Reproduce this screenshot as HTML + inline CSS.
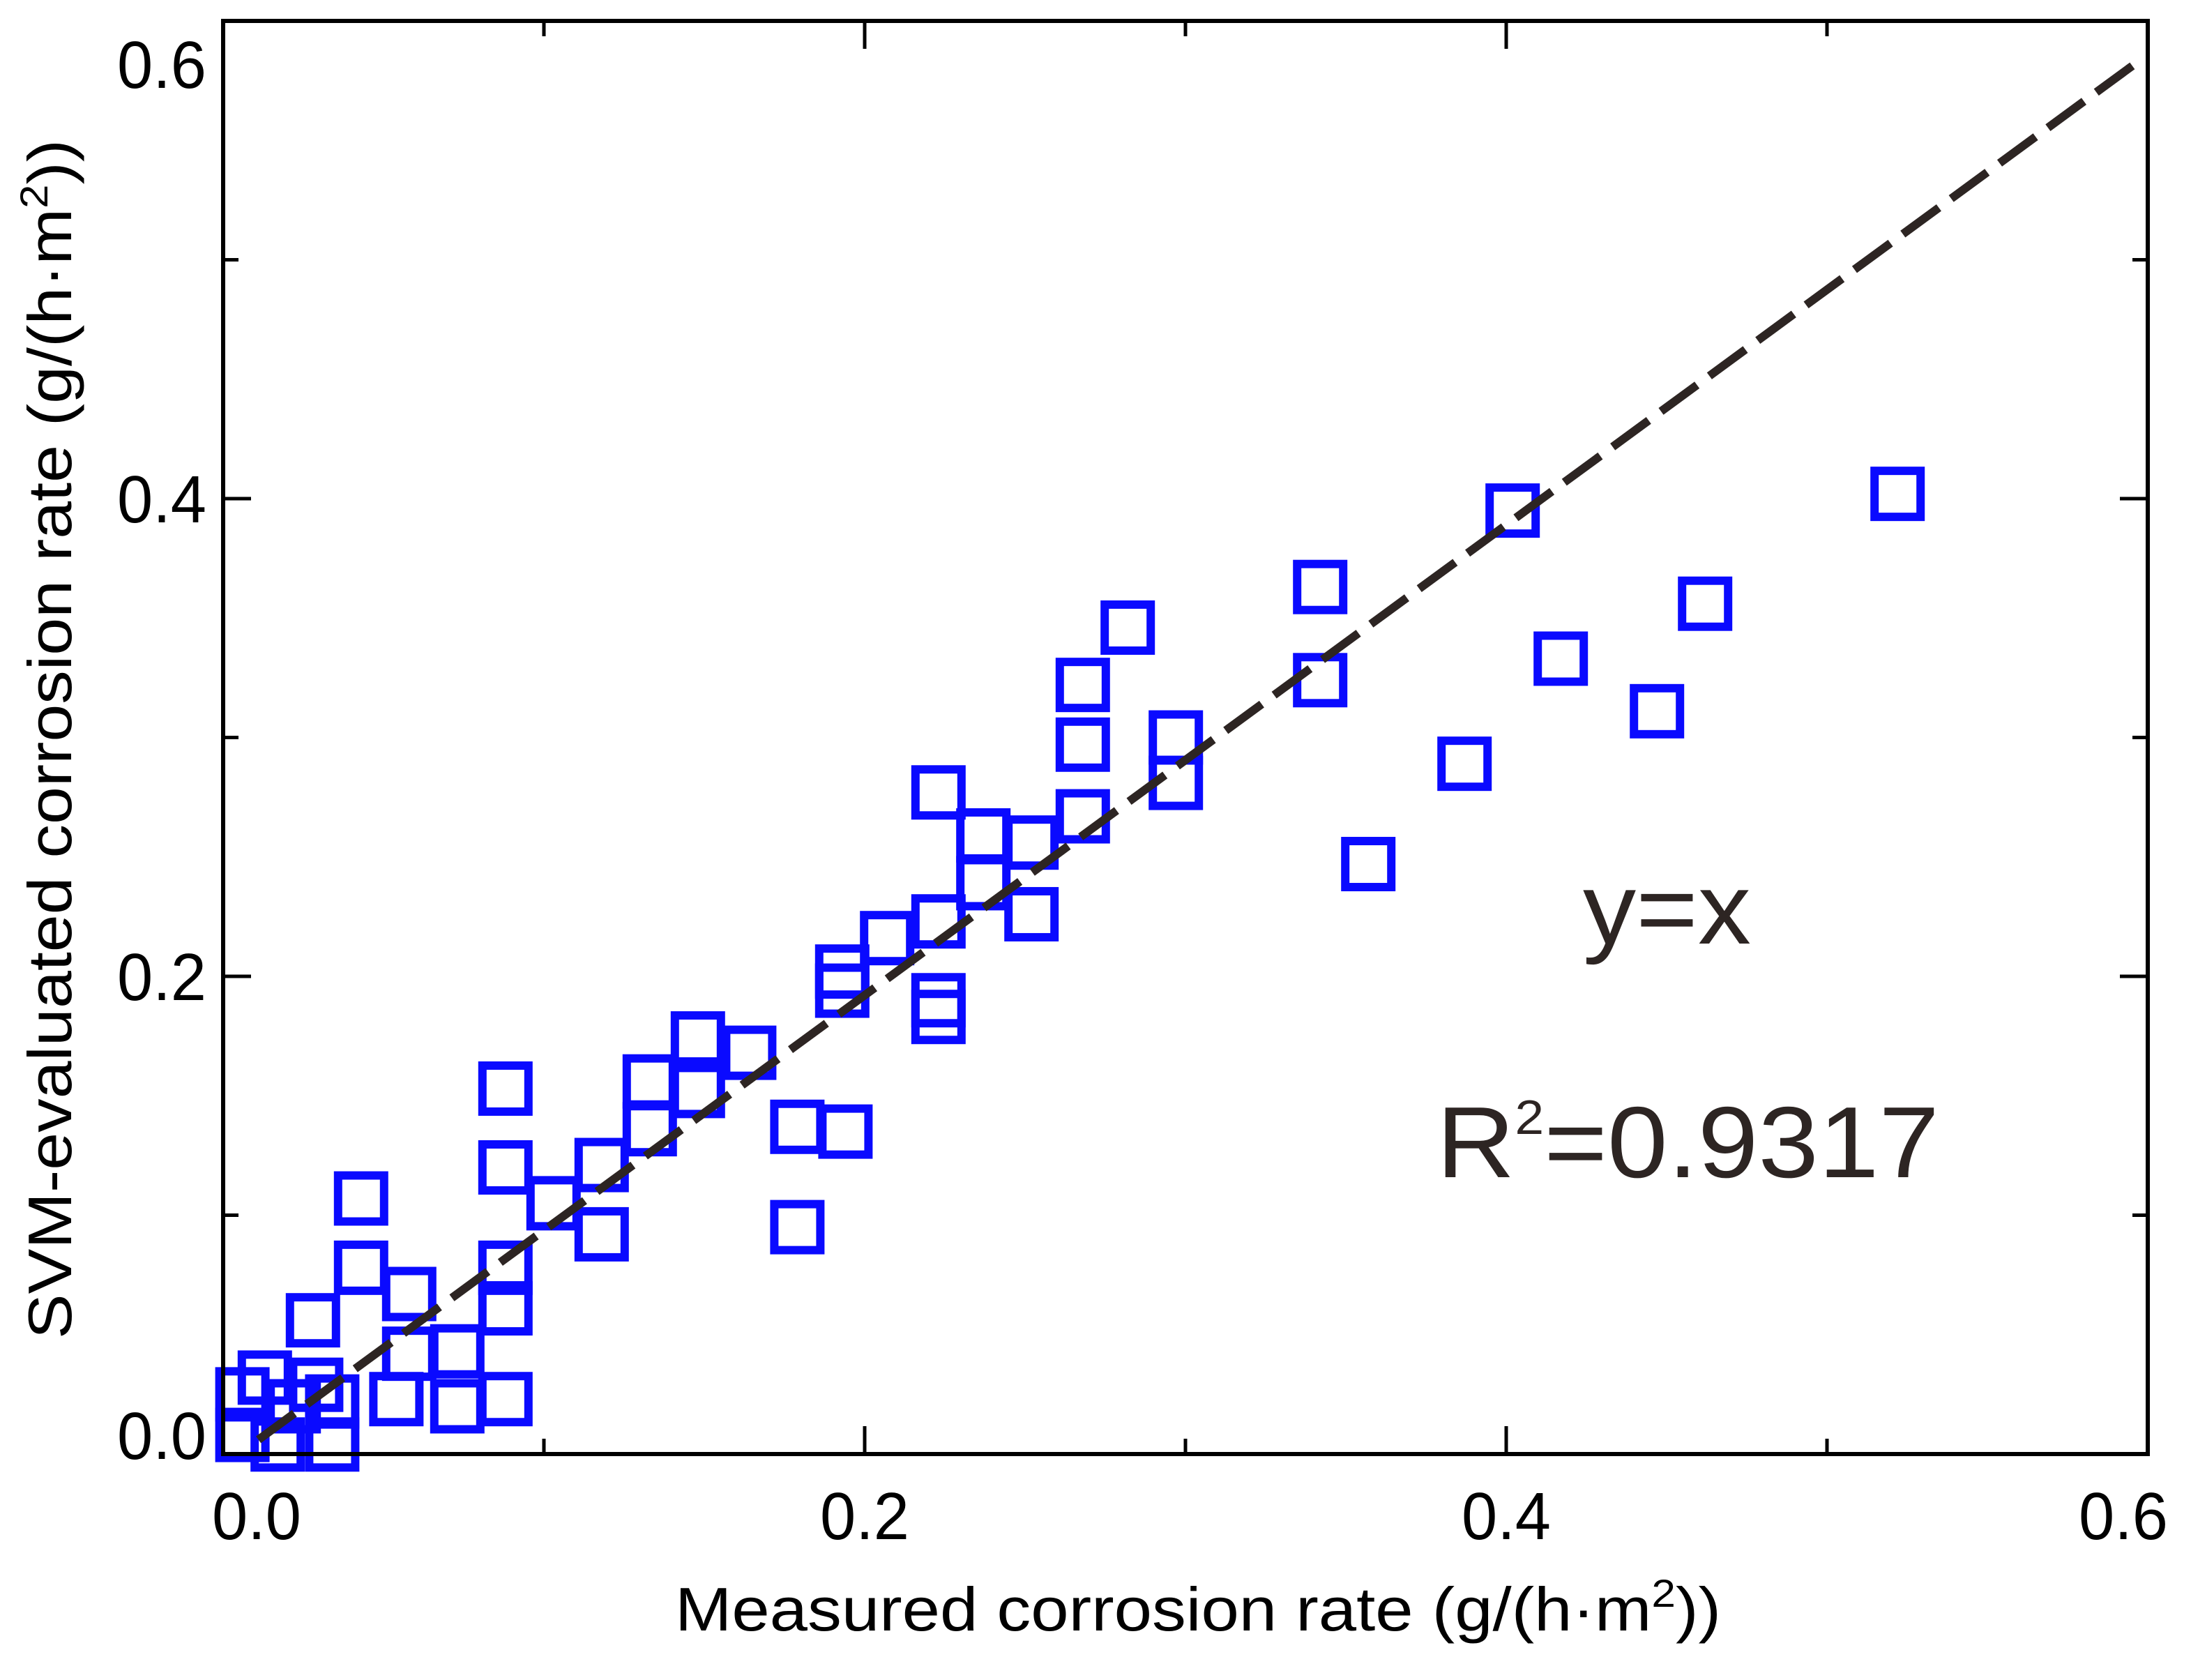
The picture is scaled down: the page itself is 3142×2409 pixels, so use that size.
<!DOCTYPE html>
<html><head><meta charset="utf-8"><style>
html,body{margin:0;padding:0;background:#fff;}
svg{display:block;font-family:"Liberation Sans",sans-serif;}
</style></head><body>
<svg id="chart" width="3142" height="2409" viewBox="0 0 3142 2409" xmlns="http://www.w3.org/2000/svg">
<rect x="0" y="0" width="3142" height="2409" fill="#fff"/>
<g id="marks"></g>
<g id="axes"></g>
<text x="1718" y="2338" font-size="88" text-anchor="middle" textLength="1500" lengthAdjust="spacingAndGlyphs" fill="#000">Measured corrosion rate (g/(h·m<tspan dy="-34" font-size="56">2</tspan><tspan dy="34">))</tspan></text>
<text transform="translate(102,1060) rotate(-90)" x="0" y="0" font-size="88" text-anchor="middle" textLength="1720" lengthAdjust="spacingAndGlyphs" fill="#000">SVM-evaluated corrosion rate (g/(h·m<tspan dy="-34" font-size="56">2</tspan><tspan dy="34">))</tspan></text>
<text x="2270" y="1353" font-size="145" textLength="241" lengthAdjust="spacingAndGlyphs" fill="#2d2523">y=x</text>
<text x="2060" y="1688" font-size="145" textLength="721" lengthAdjust="spacingAndGlyphs" fill="#2d2523">R<tspan dy="-62" font-size="70">2</tspan><tspan dy="62">=0.9317</tspan></text>
</svg>
<script>
const measured = [0.522,0.402,0.342,0.342,0.462,0.417,0.447,0.387,0.357,0.282,0.268,0.268,0.268,0.297,0.297,0.223,0.237,0.252,0.237,0.252,0.223,0.207,0.193,0.193,0.223,0.223,0.164,0.148,0.148,0.133,0.133,0.179,0.194,0.179,0.118,0.118,0.103,0.088,0.088,0.088,0.088,0.043,0.043,0.028,0.058,0.058,0.073,0.088,0.073,0.054,0.034,0.034,0.022,0.013,0.006,0.006,0.017,0.029];
const predicted = [0.402,0.395,0.363,0.324,0.356,0.333,0.311,0.289,0.247,0.346,0.322,0.297,0.267,0.300,0.281,0.277,0.259,0.256,0.239,0.226,0.223,0.216,0.202,0.194,0.190,0.183,0.168,0.174,0.152,0.156,0.136,0.137,0.135,0.095,0.121,0.092,0.105,0.153,0.120,0.078,0.061,0.107,0.078,0.056,0.067,0.042,0.043,0.023,0.020,0.023,0.004,0.022,0.020,0.032,0.008,0.025,0.004,0.029];
const xTicks = [0.0,0.2,0.4,0.6];
const yTicks = [0.0,0.2,0.4,0.6];
const tickLabels = ["0.0","0.2","0.4","0.6"];
const minorTicks = [0.1,0.3,0.5];
const lineX = [0.011,0.596];
const lineY = [0.006,0.582];

const NS = "http://www.w3.org/2000/svg";
const X0 = 320, X1 = 3080, Y0 = 2085, Y1 = 30;
function sx(v){ return X0 + (v/0.6)*(X1-X0); }
function sy(v){ return Y0 - (v/0.6)*(Y0-Y1); }
function mk(tag, attrs, parent){ const e=document.createElementNS(NS,tag); for(const k in attrs) e.setAttribute(k,attrs[k]); parent.appendChild(e); return e; }
const marks = document.getElementById('marks');
const axes = document.getElementById('axes');

const S = 66;
for (let i=0;i<measured.length;i++){
  const r = mk('rect',{x:sx(measured[i])-S/2,y:sy(predicted[i])-S/2,width:S,height:S,fill:'none',stroke:'#0a0aff','stroke-width':12},marks);
  
  
}
const ln = mk('line',{x1:sx(lineX[0]),y1:sy(lineY[0]),x2:sx(lineX[1]),y2:sy(lineY[1]),stroke:'#2d2523','stroke-width':12,'stroke-dasharray':'64 22'},marks);



const fr = mk('rect',{x:X0,y:Y1,width:X1-X0,height:Y0-Y1,fill:'none',stroke:'#000','stroke-width':6},axes);



xTicks.forEach((v,i)=>{
  const t1 = mk('line',{x1:sx(v),y1:Y0,x2:sx(v),y2:Y0-40,stroke:'#000','stroke-width':5},axes);
  
  
  const t2 = mk('line',{x1:sx(v),y1:Y1,x2:sx(v),y2:Y1+40,stroke:'#000','stroke-width':5},axes);
  
  
  const lx = Math.min(Math.max(sx(v),368),3045);
  const tx = mk('text',{x:lx,y:2207,'font-size':96,'text-anchor':'middle',textLength:128,lengthAdjust:'spacingAndGlyphs',fill:'#000'},axes);
  tx.textContent = tickLabels[i];
  
  
});
yTicks.forEach((v,i)=>{
  const t1 = mk('line',{x1:X0,y1:sy(v),x2:X0+40,y2:sy(v),stroke:'#000','stroke-width':5},axes);
  
  
  const t2 = mk('line',{x1:X1,y1:sy(v),x2:X1-40,y2:sy(v),stroke:'#000','stroke-width':5},axes);
  
  
  const ly = Math.min(Math.max(sy(v),92),2058) + 34;
  const ty = mk('text',{x:296,y:ly,'font-size':96,'text-anchor':'end',textLength:128,lengthAdjust:'spacingAndGlyphs',fill:'#000'},axes);
  ty.textContent = tickLabels[i];
  
  
});
minorTicks.forEach(v=>{
  const a = mk('line',{x1:sx(v),y1:Y0,x2:sx(v),y2:Y0-22,stroke:'#000','stroke-width':5},axes);
  
  
  const b = mk('line',{x1:X0,y1:sy(v),x2:X0+22,y2:sy(v),stroke:'#000','stroke-width':5},axes);
  
  
  const c = mk('line',{x1:X1,y1:sy(v),x2:X1-22,y2:sy(v),stroke:'#000','stroke-width':5},axes);
  
  
  const d = mk('line',{x1:sx(v),y1:Y1,x2:sx(v),y2:Y1+22,stroke:'#000','stroke-width':5},axes);
  
  
});
</script>
</body></html>
